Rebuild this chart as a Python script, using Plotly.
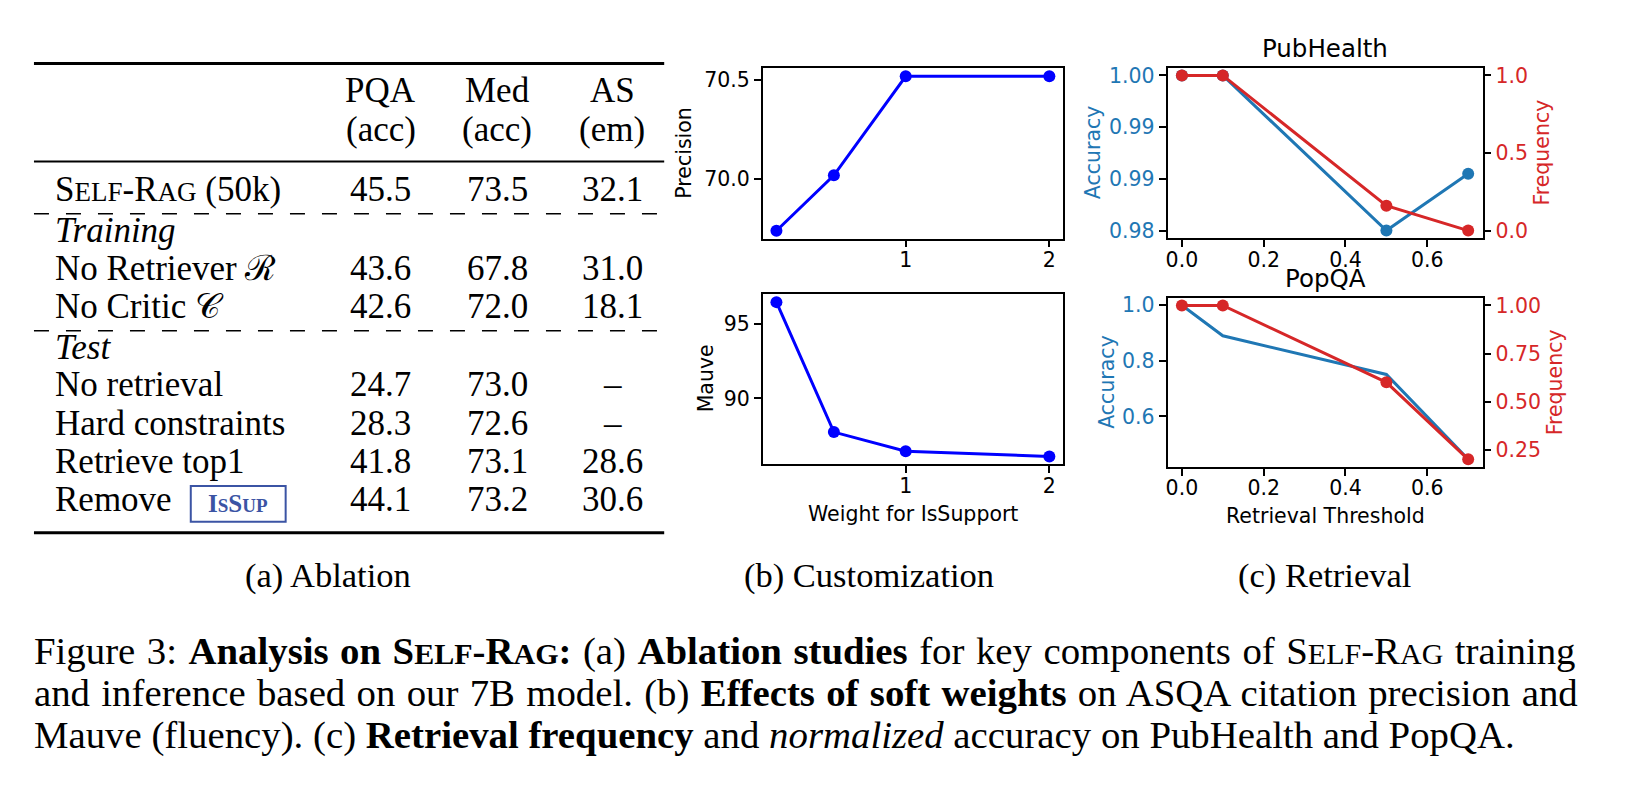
import plotly.graph_objects as go

W, H = 1648, 798
SERIF = "Liberation Serif, Times New Roman, serif"
SANS = "DejaVu Sans, sans-serif"
BLUE = "#1f77b4"
RED = "#d62728"
BOX_BLUE = "#3b54a4"

# (a) Ablation table
col_names = ["PQA", "Med", "AS"]
col_metrics = ["(acc)", "(acc)", "(em)"]
row_labels = [
    'S<span style="font-size:27px">ELF</span>-R<span style="font-size:27px">AG</span> (50k)',
    "No Retriever \u211b",
    "No Critic \U0001d49e",
    "No retrieval",
    "Hard constraints",
    "Retrieve top1",
    "Remove",
]
pqa_acc = [45.5, 43.6, 42.6, 24.7, 28.3, 41.8, 44.1]
med_acc = [73.5, 67.8, 72.0, 73.0, 72.6, 73.1, 73.2]
as_em = [32.1, 31.0, 18.1, None, None, 28.6, 30.6]
group_labels = ["Training", "Test"]

# (b) Customization
weights = [0.1, 0.5, 1, 2]
precision = [69.74, 70.02, 70.52, 70.52]
mauve = [96.45, 87.75, 86.47, 86.12]

# (c) Retrieval
thresholds = [0.0, 0.1, 0.5, 0.7]
pubhealth_acc = [1.0, 1.0, 0.985, 0.9905]
pubhealth_freq = [1.0, 1.0, 0.16, 0.0]
popqa_acc = [1.0, 0.89, 0.751, 0.446]
popqa_freq = [1.0, 1.0, 0.6, 0.2]


def X(p):
    return p / W


def Y(p):
    return 1 - p / H


def axis(**kw):
    a = dict(showline=True, linecolor="black", linewidth=1.6, mirror=True,
             ticks="outside", ticklen=7, tickwidth=1.6, tickcolor="black",
             showgrid=False, zeroline=False, ticklabelstandoff=0,
             tickfont=dict(family=SANS, size=20.5, color="black"))
    a.update(kw)
    return a


def xaxis(**kw):
    return axis(ticklabelstandoff=-5, **kw)


fig = go.Figure()

# customization panels
fig.add_trace(go.Scatter(x=weights, y=precision, mode="lines+markers",
                         line=dict(color="blue", width=3), marker=dict(size=12, color="blue"),
                         xaxis="x", yaxis="y", showlegend=False))
fig.add_trace(go.Scatter(x=weights, y=mauve, mode="lines+markers",
                         line=dict(color="blue", width=3), marker=dict(size=12, color="blue"),
                         xaxis="x2", yaxis="y2", showlegend=False))

# retrieval panels
fig.add_trace(go.Scatter(x=thresholds, y=pubhealth_acc, mode="lines+markers",
                         line=dict(color=BLUE, width=3), marker=dict(size=12, color=BLUE),
                         xaxis="x3", yaxis="y3", showlegend=False))
fig.add_trace(go.Scatter(x=thresholds, y=pubhealth_freq, mode="lines+markers",
                         line=dict(color=RED, width=3), marker=dict(size=12, color=RED),
                         xaxis="x3", yaxis="y4", showlegend=False))
fig.add_trace(go.Scatter(x=thresholds, y=popqa_acc, mode="lines",
                         line=dict(color=BLUE, width=3),
                         xaxis="x4", yaxis="y5", showlegend=False))
fig.add_trace(go.Scatter(x=thresholds, y=popqa_freq, mode="lines+markers",
                         line=dict(color=RED, width=3), marker=dict(size=12, color=RED),
                         xaxis="x4", yaxis="y6", showlegend=False))

cust_x = [X(761.7), X(1062.3)]
ret_x = [X(1167), X(1482.3)]
red_font = dict(family=SANS, size=20.5, color=RED)
blue_font = dict(family=SANS, size=20.5, color=BLUE)

fig.update_layout(
    width=W, height=H, margin=dict(l=0, r=0, t=0, b=0),
    paper_bgcolor="white", plot_bgcolor="white",
    xaxis=xaxis(domain=cust_x, anchor="y", range=[0.005, 2.095], tickvals=[1, 2]),
    yaxis=axis(domain=[Y(237), Y(65)], anchor="x", range=[69.70, 70.56],
               tickvals=[70.0, 70.5], tickformat=".1f"),
    xaxis2=xaxis(domain=cust_x, anchor="y2", range=[0.005, 2.095], tickvals=[1, 2]),
    yaxis2=axis(domain=[Y(465), Y(293.3)], anchor="x2", range=[85.59, 96.97],
                tickvals=[90, 95]),
    xaxis3=xaxis(domain=ret_x, anchor="y3", range=[-0.035, 0.735],
                 tickvals=[0, 0.2, 0.4, 0.6], tickformat=".1f"),
    yaxis3=axis(domain=[Y(236.7), Y(64.3)], anchor="x3", range=[0.98425, 1.00075],
                tickvals=[0.985, 0.99, 0.995, 1.0],
                ticktext=["0.98", "0.99", "0.99", "1.00"], tickfont=blue_font),
    yaxis4=axis(overlaying="y3", side="right", anchor="x3", mirror=False,
                range=[-0.05, 1.05], tickvals=[0, 0.5, 1], tickformat=".1f",
                tickfont=red_font),
    xaxis4=xaxis(domain=ret_x, anchor="y5", range=[-0.035, 0.735],
                 tickvals=[0, 0.2, 0.4, 0.6], tickformat=".1f"),
    yaxis5=axis(domain=[Y(467.7), Y(296.7)], anchor="x4", range=[0.418, 1.027],
                tickvals=[0.6, 0.8, 1.0], tickformat=".1f", tickfont=blue_font),
    yaxis6=axis(overlaying="y5", side="right", anchor="x4", mirror=False,
                range=[0.16, 1.04], tickvals=[0.25, 0.5, 0.75, 1.0], tickformat=".2f",
                tickfont=red_font),
)

ann = []


def text(x, y, s, size, family=SERIF, color="black", xanchor="center", angle=0):
    ann.append(dict(x=X(x), y=Y(y), xref="paper", yref="paper", text=s, showarrow=False,
                    xanchor=xanchor, yanchor="middle", textangle=angle,
                    font=dict(family=family, size=size, color=color)))


# plot axis titles
text(683, 151, "Precision", 20.5, SANS, angle=-90)
text(705, 378, "Mauve", 20.5, SANS, angle=-90)
text(912, 515, "Weight for IsSupport", 20.5, SANS)
text(1093, 150, "Accuracy", 20.5, SANS, BLUE, angle=-90)
text(1107, 382, "Accuracy", 20.5, SANS, BLUE, angle=-90)
text(1542, 150, "Frequency", 20.5, SANS, RED, angle=-90)
text(1555, 382, "Frequency", 20.5, SANS, RED, angle=-90)
text(1325, 517, "Retrieval Threshold", 20.5, SANS)
text(1325, 45, "PubHealth", 24.5, SANS)
text(1325, 277, "PopQA", 24.5, SANS)

# table
TS = 35
col_x = [379, 496, 611]
for cx, name, met in zip(col_x, col_names, col_metrics):
    text(cx, 87, name, TS)
    text(cx, 127, met, TS)
row_y = [187, 267, 306, 384, 424, 462, 501]
for ry, lab, a, b, c in zip(row_y, row_labels, pqa_acc, med_acc, as_em):
    text(51, ry, lab, TS, xanchor="left")
    for cx, v in zip(col_x, [a, b, c]):
        text(cx, ry, "\u2013" if v is None else f"{v:.1f}", TS)
text(51, 229, f"<i>{group_labels[0]}</i>", TS, xanchor="left")
text(51, 347, f"<i>{group_labels[1]}</i>", TS, xanchor="left")
text(236, 505, '<b>I<span style="font-size:19px">S</span>S<span style="font-size:19px">UP</span></b>',
     25, color=BOX_BLUE)

shapes = [
    dict(type="line", xref="paper", yref="paper", x0=X(32), x1=X(663), y0=Y(60), y1=Y(60),
         line=dict(color="black", width=3)),
    dict(type="line", xref="paper", yref="paper", x0=X(32), x1=X(663), y0=Y(159), y1=Y(159),
         line=dict(color="black", width=2)),
    dict(type="line", xref="paper", yref="paper", x0=X(32), x1=X(663), y0=Y(534), y1=Y(534),
         line=dict(color="black", width=3)),
    dict(type="rect", xref="paper", yref="paper", x0=X(189), x1=X(284), y0=Y(523), y1=Y(487),
         line=dict(color=BOX_BLUE, width=2)),
]
for dy in (212, 330):
    shapes.append(dict(type="line", xref="paper", yref="paper", x0=X(32), x1=X(663),
                       y0=Y(dy), y1=Y(dy), line=dict(color="black", width=1.5, dash="15px,17px")))

# sub captions
text(326, 577, "(a) Ablation", 34.5)
text(868, 577, "(b) Customization", 34.5)
text(1324, 577, "(c) Retrieval", 34.5)

CS = 38.8
sc = '<span style="font-size:30px">'
caption = [
    f'Figure 3: <b>Analysis on S{sc}ELF</span>-R{sc}AG</span>:</b> (a) <b>Ablation studies</b> '
    f'for key components of S{sc}ELF</span>-R{sc}AG</span> training',
    'and inference based on our 7B model. (b) <b>Effects of soft weights</b> on ASQA citation precision and',
    'Mauve (fluency). (c) <b>Retrieval frequency</b> and <i>normalized</i> accuracy on PubHealth and PopQA.',
]
# first two lines are justified in the paper, stretch the word gaps a little
stretch = ["1.8px", "1.6px", "0px"]
for cy, line, ws in zip([654, 696, 738], caption, stretch):
    text(30, cy, f'<span style="word-spacing:{ws}">{line}</span>', CS, xanchor="left")

fig.update_layout(annotations=ann, shapes=shapes)

fig.write_html("out.html", config={"displayModeBar": False},
               post_script="document.body.style.margin='0';document.body.style.overflow='hidden';")
